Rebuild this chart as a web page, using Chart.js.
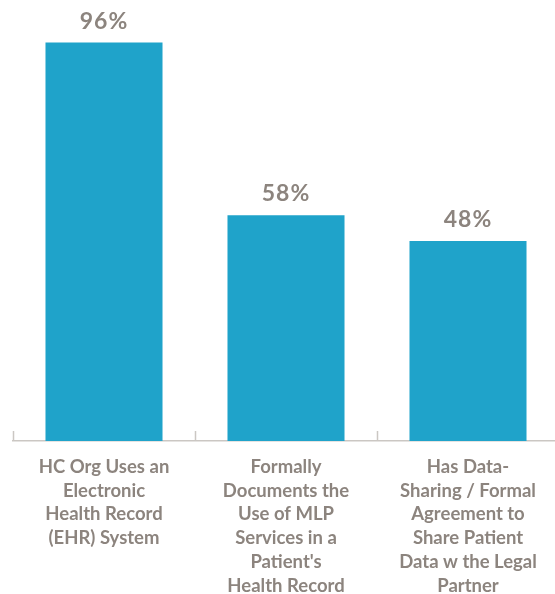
<!DOCTYPE html>
<html>
<head>
<meta charset="utf-8">
<script src="https://cdn.jsdelivr.net/npm/chart.js@4"></script>
<style>
  html, body { margin: 0; padding: 0; overflow: hidden; background: #fff; }
  #wrap { width: 559px; height: 594px; }
</style>
</head>
<body>
<div id="wrap"><canvas id="chart"></canvas></div>
<script>
// categories, multi-line as in the picture
const categories = [
  ["HC Org Uses an", "Electronic", "Health Record", "(EHR) System"],
  ["Formally", "Documents the", "Use of MLP", "Services in a", "Patient's", "Health Record"],
  ["Has Data-", "Sharing / Formal", "Agreement to", "Share Patient", "Data w the Legal", "Partner"]
];
// bar heights as drawn, and the printed labels
const barValues = [96, 54.4, 48.2];
const valueLabels = ["96%", "58%", "48%"];

const textColor = "#8c847e";
const barColor = "#1fa3ca";
const axisColor = "#cbc7c3";

const valueLabelPlugin = {
  id: "valueLabels",
  afterDatasetsDraw(chart) {
    const ctx = chart.ctx;
    const meta = chart.getDatasetMeta(0);
    ctx.save();
    ctx.font = "700 23px Lato";
    ctx.letterSpacing = "1px";
    ctx.fillStyle = textColor;
    ctx.textAlign = "center";
    ctx.textBaseline = "alphabetic";
    meta.data.forEach((bar, i) => {
      ctx.fillText(valueLabels[i], bar.x, bar.y - 14);
    });
    ctx.restore();
  }
};

const tickMarkPlugin = {
  id: "tickMarks",
  afterDraw(chart) {
    const x = chart.scales.x;
    const ctx = chart.ctx;
    const half = (x.getPixelForValue(1) - x.getPixelForValue(0)) / 2;
    const y = chart.chartArea.bottom;
    ctx.save();
    ctx.strokeStyle = axisColor;
    ctx.lineWidth = 1.5;
    for (let i = 0; i < categories.length; i++) {
      const px = Math.round(x.getPixelForValue(i) - half) + 0.5;
      ctx.beginPath();
      ctx.moveTo(px, y - 10);
      ctx.lineTo(px, y);
      ctx.stroke();
    }
    ctx.restore();
  }
};

new Chart(document.getElementById("chart"), {
  type: "bar",
  data: {
    labels: categories,
    datasets: [
      {
        data: barValues,
        backgroundColor: barColor,
        barPercentage: 0.643,
        categoryPercentage: 1.0,
      },
    ],
  },
  options: {
    responsive: true,
    maintainAspectRatio: false,
    animation: false,
    layout: { padding: { left: 13, right: 0, top: 26, bottom: 0 } },
    plugins: {
      legend: { display: false },
      tooltip: { enabled: false },
    },
    scales: {
      x: {
        grid: { display: false },
        border: { display: true, color: axisColor, width: 1.5 },
        ticks: {
          color: textColor,
          font: { family: "Lato", size: 18.5, weight: "700", lineHeight: 1.286 },
          padding: 6,
          maxRotation: 0,
          autoSkip: false,
        },
        afterFit(scale) {
          scale.height = 153;
        },
      },
      y: {
        display: false,
        min: 0,
        max: 100,
      },
    },
  },
  plugins: [valueLabelPlugin, tickMarkPlugin],
});
</script>
</body>
</html>
